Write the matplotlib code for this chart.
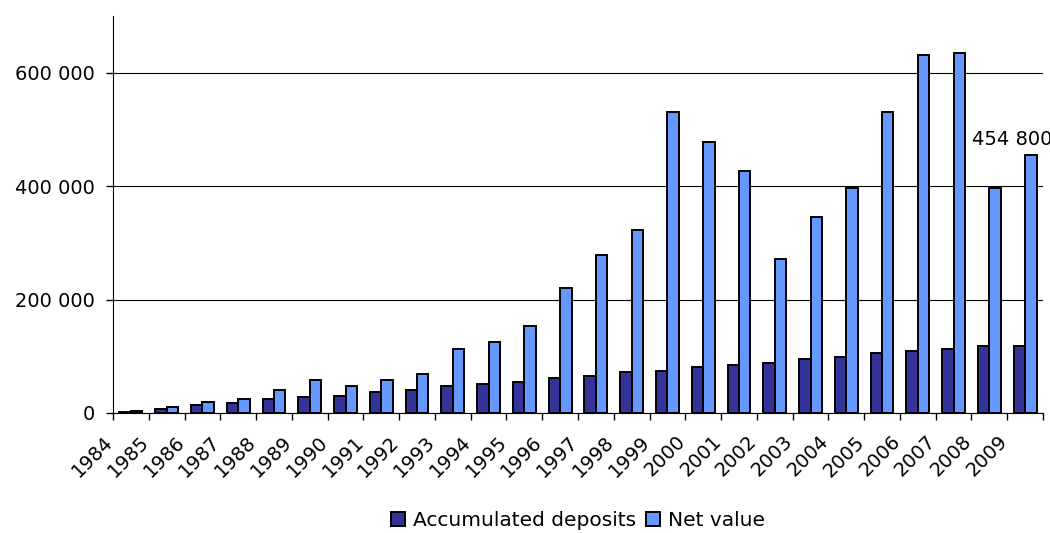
import numpy as np
import matplotlib
matplotlib.use('Agg')
import matplotlib.pyplot as plt
from matplotlib.ticker import FuncFormatter, FixedLocator

years = ['1984', '1985', '1986', '1987', '1988', '1989', '1990', '1991', '1992',
         '1993', '1994', '1995', '1996', '1997', '1998', '1999', '2000', '2001',
         '2002', '2003', '2004', '2005', '2006', '2007', '2008', '2009']
deposits = [2000, 7000, 14000, 17000, 24000, 28000, 30000, 37000, 41000,
            47000, 51000, 55000, 62000, 65000, 72000, 74000, 81000, 84000,
            88000, 95000, 98000, 105000, 109000, 113000, 119000, 119000]
net_value = [3000, 10000, 20000, 24000, 40000, 58000, 47000, 58000, 68000,
             112000, 126000, 153000, 220000, 278000, 322000, 530000, 478000, 427000,
             271000, 345000, 396000, 530000, 632000, 635000, 396000, 454800]

plt.rcParams['font.family'] = 'DejaVu Sans'

fig = plt.figure(figsize=(10.5, 5.33), dpi=100)
ax = fig.add_axes([113/1050, 1 - 413/533, 930/1050, 397/533])

x = np.arange(len(years))
w = 0.32
ax.bar(x - w/2, deposits, w, color='#333399', edgecolor='black', linewidth=1.4,
       label='Accumulated deposits', zorder=3)
ax.bar(x + w/2, net_value, w, color='#6699FF', edgecolor='black', linewidth=1.4,
       label='Net value', zorder=3)

ax.set_xlim(-0.5, len(years) - 0.5)
ax.set_ylim(0, 700000)
ax.set_yticks([0, 200000, 400000, 600000])
ax.yaxis.set_major_formatter(FuncFormatter(lambda v, p: f'{int(v):,}'.replace(',', ' ')))
ax.grid(axis='y', color='black', linewidth=0.8, zorder=0)

# ticks between categories, labels at centers
ax.xaxis.set_major_locator(FixedLocator(np.arange(-0.5, len(years), 1)))
ax.set_xticklabels([])
ax.tick_params(axis='x', direction='out', length=5, width=1)
ax.tick_params(axis='y', direction='out', length=5, width=1, labelsize=14, pad=8)
for i, yr in enumerate(years):
    ax.annotate(yr, xy=(i, 0), xycoords=('data', 'axes fraction'),
                xytext=(-14, -19), textcoords='offset pixels',
                rotation=45, ha='right', va='top', fontsize=14)

for s in ['top', 'right']:
    ax.spines[s].set_visible(False)

ax.annotate('454 800', xy=(x[-1] + w/2, net_value[-1]), xytext=(-19, 6),
            textcoords='offset pixels', ha='center', va='bottom', fontsize=14,
            annotation_clip=False)

ax.legend(loc='center', bbox_to_anchor=(0.5, -0.272), ncol=2, frameon=False,
          fontsize=14.5, handlelength=0.7, handleheight=0.7, handletextpad=0.4,
          columnspacing=0.5, borderaxespad=0, borderpad=0)

plt.savefig('out.png', dpi=100)
